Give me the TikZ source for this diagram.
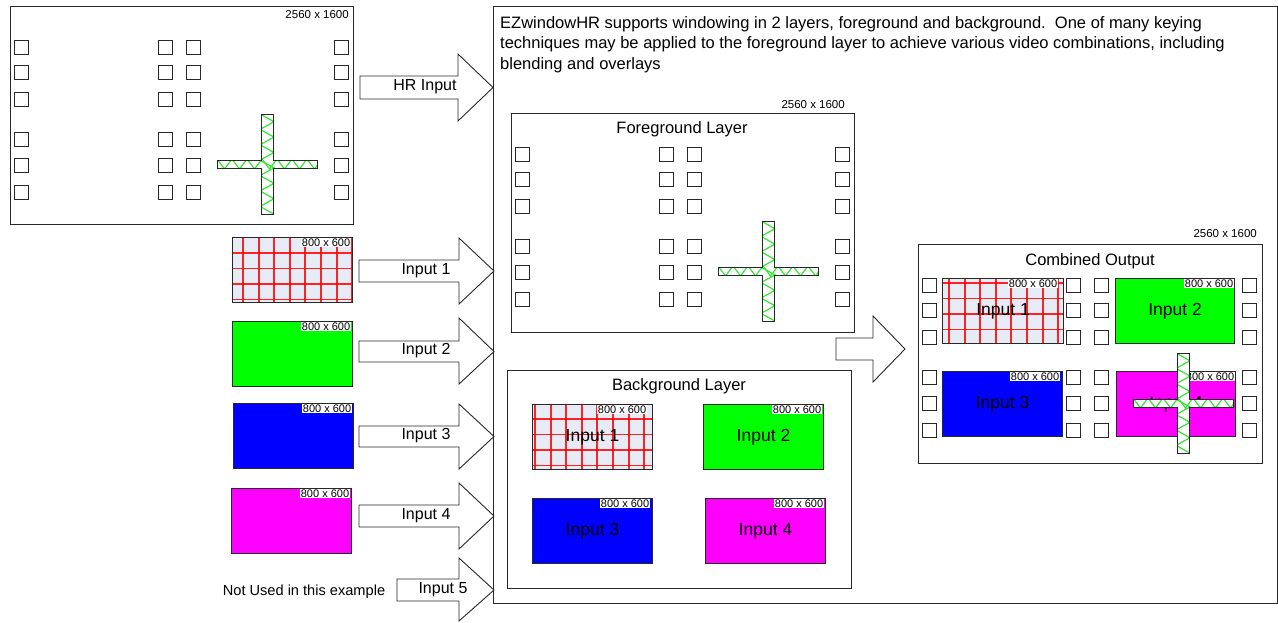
\documentclass[tikz,border=0pt]{standalone}
\usepackage{fontspec}
\setmainfont{Liberation Sans}
\definecolor{vgreen}{RGB}{0,255,0}
\definecolor{vblue}{RGB}{0,0,255}
\definecolor{vmag}{RGB}{255,0,255}
\definecolor{gridbg}{RGB}{230,235,245}
\definecolor{zig}{RGB}{50,230,50}
\definecolor{edge}{RGB}{40,40,40}
\newcommand\fs[2]{\fontsize{#1}{#2}\selectfont}
\tikzset{
  sqbox/.style={draw=edge, line width=1pt, minimum size=13.5pt, inner sep=0pt, anchor=north west},
  framebox/.style={draw=edge, line width=1pt},
  barrow/.style={draw=edge, line width=0.9pt, fill=white, line join=miter},
  vid/.style={draw=edge, line width=1pt, minimum width=120pt, minimum height=65pt, anchor=north west, inner sep=0pt, font=\fs{17.5}{20}},
  res/.style={fill=white, inner sep=0.6pt, font=\fs{11}{12}, anchor=north east},
  bigres/.style={inner sep=0pt, font=\fs{11.5}{13}, anchor=east},
  title/.style={font=\fs{16.5}{20}, inner sep=0pt},
  alabel/.style={font=\fs{16}{19}, inner sep=0pt},
  gridline/.style={red, line width=1.9pt, opacity=0.85},
  zigline/.style={zig, line width=1.2pt, line join=miter},
}
% grid-patterned video frame background
\newcommand\gridpat[6]{%
  \begin{scope}
    \clip (#1,#2) rectangle (#3,#4);
    \fill[gridbg] (#1,#2) rectangle (#3,#4);
    \foreach \gx in {0,...,7} \draw[gridline] (#1+#5+15.6*\gx,#2) -- (#1+#5+15.6*\gx,#4);
    \foreach \gy in {0,...,4} \draw[gridline] (#1,#2+#6+15.5*\gy) -- (#3,#2+#6+15.5*\gy);
  \end{scope}}
% set of 24 small squares
\newcommand\sqset[3]{%
  \foreach \cx/\ci in {14/a,158/b,186/c,334/d}
    \foreach \cy/\cj in {40/1,65/2,92/3,132/4,158/5,185/6}
      \node[sqbox] (#1\ci\cj) at (\cx+#2,\cy+#3) {};}
% cross shape with zigzag fill
\newcommand\crosspath[2]{(#1,#2) -- ++(12,0) -- ++(0,46) -- ++(44,0) -- ++(0,8) -- ++(-44,0) -- ++(0,46) -- ++(-12,0) -- ++(0,-46) -- ++(-44,0) -- ++(0,-8) -- ++(44,0) -- cycle}
\newcommand\zcross[2]{%
  \fill[white] \crosspath{#1}{#2};
  \begin{scope}
    \clip \crosspath{#1}{#2};
    \foreach \i in {0,...,6} {
      \draw[zigline] (#1-1,#2+15.4*\i) -- (#1+13,#2+15.4*\i+7.7) -- (#1-1,#2+15.4*\i+15.4);
      \draw[zigline] (#1-44+15*\i,#2+45) -- (#1-44+15*\i+7.5,#2+55) -- (#1-44+15*\i+15,#2+45);
    }
  \end{scope}
  \draw[edge, line width=1pt, line join=miter] \crosspath{#1}{#2};}
% block arrow: left, shaft top, shaft bottom, head x, head top, head bottom, tip x
\newcommand\barr[7]{%
  \draw[barrow] (#1,#2) -- (#4,#2) -- (#4,#5) -- (#7,{(#2+#3)/2}) -- (#4,#6) -- (#4,#3) -- (#1,#3) -- cycle;}
\begin{document}
\begin{tikzpicture}[x=1pt,y=-1pt]
\useasboundingbox (0,0) rectangle (1278,622);
\fill[white] (0,0) rectangle (1278,622);

% ---------------- HR input frame ----------------
\draw[framebox] (10,6) rectangle (353,224);
\node[bigres] (reshr) at (349,15) {2560 x 1600};
\sqset{hr}{0}{0}
\zcross{261}{114}

% ---------------- left inputs ----------------
\gridpat{232}{237}{352}{302}{11}{16}
\node[vid] (in1) at (232,237) {};
\node[res] (rin1) at ([xshift=-2pt,yshift=-1pt]in1.north east) {800 x 600};
\node[vid, fill=vgreen] (in2) at (232,321) {};
\node[res] (rin2) at ([xshift=-2pt,yshift=-1pt]in2.north east) {800 x 600};
\node[vid, fill=vblue] (in3) at (233,403) {};
\node[res] (rin3) at ([xshift=-2pt,yshift=-1pt]in3.north east) {800 x 600};
\node[vid, fill=vmag] (in4) at (231,488) {};
\node[res] (rin4) at ([xshift=-2pt,yshift=-1pt]in4.north east) {800 x 600};
\node[font=\fs{14.6}{17}, inner sep=0pt] (notused) at (304,592) {Not Used in this example};

% ---------------- block arrows ----------------
\barr{360}{76}{99}{458}{54}{121}{493}
\node[alabel] (lhr) at (425,87) {HR Input};
\barr{359}{260}{282}{459}{238}{304}{494}
\node[alabel] (l1) at (426,271) {Input 1};
\barr{359}{341}{362}{459}{318}{384}{494}
\node[alabel] (l2) at (426,351) {Input 2};
\barr{359}{426}{447}{459}{404}{469}{494}
\node[alabel] (l3) at (426,436) {Input 3};
\barr{359}{505}{527}{459}{483}{549}{494}
\node[alabel] (l4) at (426,516) {Input 4};
\barr{397}{579}{601}{459}{558}{621}{494}
\node[alabel] (l5) at (443,590) {Input 5};

% ---------------- main frame ----------------
\draw[framebox] (493,6) rectangle (1277,603);
\node[anchor=north west, inner sep=0pt, align=left, font=\fs{16.5}{20.5}] (desc) at (500,16)
  {EZwindowHR supports windowing in 2 layers, foreground and background.\ \ One of many keying\\
   techniques may be applied to the foreground layer to achieve various video combinations, including\\
   blending and overlays};

% foreground layer
\draw[framebox] (511,113) rectangle (854,332);
\node[bigres] (resfg) at (845,105) {2560 x 1600};
\node[title] (tfg) at (682,129) {Foreground Layer};
\sqset{fg}{501}{107}
\zcross{762}{221}

% background layer
\draw[framebox] (507,370) rectangle (851,588);
\node[title] (tbg) at (679,386) {Background Layer};
\gridpat{532}{404}{652}{469}{3}{15}
\node[vid] (b1) at (532,404) {Input 1};
\node[res] (rb1) at ([xshift=-6pt,yshift=-1pt]b1.north east) {800 x 600};
\node[vid, fill=vgreen] (b2) at (703,404) {Input 2};
\node[res] (rb2) at ([xshift=-2pt,yshift=-1pt]b2.north east) {800 x 600};
\node[vid, fill=vblue] (b3) at (532,498) {Input 3};
\node[res] (rb3) at ([xshift=-3pt,yshift=-1pt]b3.north east) {800 x 600};
\node[vid, fill=vmag] (b4) at (705,498) {Input 4};
\node[res] (rb4) at ([xshift=-2pt,yshift=-1pt]b4.north east) {800 x 600};

% arrow to combined output
\barr{836}{338}{360}{873}{316}{382}{905}

% combined output
\draw[framebox] (918,244) rectangle (1262,463);
\node[bigres] (rescb) at (1257,234) {2560 x 1600};
\node[title] (tcb) at (1090,261) {Combined Output};
\sqset{cb}{908}{238}
\gridpat{942}{278}{1063}{343}{7}{5}
\node[vid, minimum width=121pt] (c1) at (942,278) {Input 1};
\node[res] (rc1) at ([xshift=-6pt,yshift=-1pt]c1.north east) {800 x 600};
\node[vid, fill=vgreen, minimum width=119pt] (c2) at (1115,278) {Input 2};
\node[res] (rc2) at ([xshift=-1pt,yshift=-1pt]c2.north east) {800 x 600};
\node[vid, fill=vblue] (c3) at (942,371) {Input 3};
\node[res] (rc3) at ([xshift=-3pt,yshift=-1pt]c3.north east) {800 x 600};
\node[vid, fill=vmag, minimum width=119pt] (c4) at (1116,371) {Input 4};
\node[res] (rc4) at ([xshift=-1pt,yshift=-1pt]c4.north east) {800 x 600};
\zcross{1177}{353}
\end{tikzpicture}
\end{document}
